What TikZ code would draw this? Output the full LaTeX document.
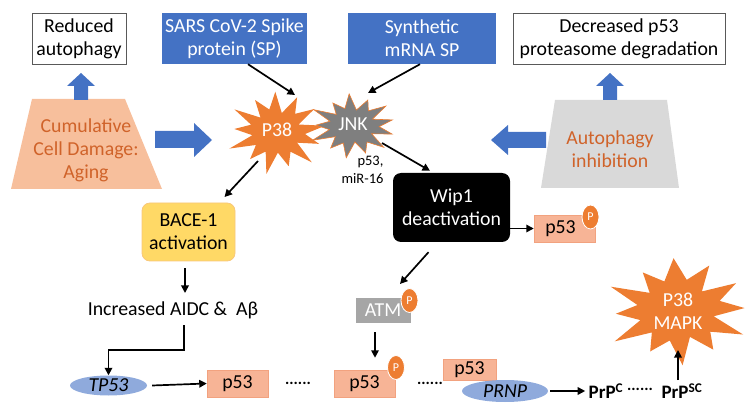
\documentclass[tikz,border=0pt]{standalone}
\usepackage{fontspec}
\setmainfont{Carlito}
\usetikzlibrary{shapes.geometric,arrows.meta}
\definecolor{bblue}{HTML}{4472C4}
\definecolor{orng}{HTML}{ED7D31}
\definecolor{peach}{HTML}{F7BF9C}
\definecolor{otext}{HTML}{D0632A}
\definecolor{lgray}{HTML}{D9D9D9}
\definecolor{mgray}{HTML}{A6A6A6}
\definecolor{dgray}{HTML}{7F7F7F}
\definecolor{salmon}{HTML}{F7B496}
\definecolor{salmonb}{HTML}{F2A27F}
\definecolor{ell}{HTML}{8FAADC}
\definecolor{yel}{HTML}{FFD966}
\definecolor{yelb}{HTML}{F8C77A}
% star polygon: center x, center y, rx, ry, points, inner ratio, phase
\newcommand\mystarpath[7]{%
  plot[samples at={0,...,\numexpr 2*#5-1\relax}, variable=\k]
  ({#1+#3*((mod(\k,2)==0)?1:#6)*(1+0.10*sin(\k*97+#7))*cos(90+\k*180/#5+#7/10)},
   {#2-#4*((mod(\k,2)==0)?1:#6)*(1+0.10*sin(\k*97+#7))*sin(90+\k*180/#5+#7/10)}) -- cycle}
\begin{document}
\begin{tikzpicture}[x=1pt,y=-1pt,
  big/.style={font=\fontsize{19.8}{23}\selectfont},
  wbox/.style={big, draw=gray!70!black, fill=white, line width=0.8pt, align=center, inner sep=0pt},
  bbox/.style={big, fill=bblue, text=white, align=center, inner sep=0pt},
  arr/.style={-{Triangle[length=7.5pt,width=7.5pt]}, line width=1.7pt},
  pbox/.style={big, fill=salmon, draw=salmonb, line width=0.5pt, inner sep=0pt},
  pcirc/.style={ellipse, fill=orng, draw=white, line width=0.8pt, text=white, inner sep=0pt, minimum width=17pt, minimum height=24pt, font=\fontsize{12}{13}\selectfont},
  gene/.style={ellipse, fill=ell, inner sep=0pt, font=\fontsize{19.8}{22}\selectfont\itshape},
  startxt/.style={inner sep=0pt, align=center, big, text=white},
  dots/.style={font=\bfseries\fontsize{16}{16}\selectfont}
]
\useasboundingbox (0,0) rectangle (750,414);

% top boxes
\node[wbox, minimum width=94pt, minimum height=51pt] (red) at (79,38.5) {Reduced\\autophagy};
\node[bbox, minimum width=145pt, minimum height=51pt] (sars) at (234.5,38.5) {SARS CoV-2 Spike\\protein (SP)};
\node[bbox, minimum width=148pt, minimum height=51pt] (syn) at (422,38.5) {Synthetic\\mRNA SP};
\node[wbox, minimum width=212pt, minimum height=51pt] (dec) at (619,38.5) {Decreased p53\\proteasome degradation};

% trapezoids
\fill[peach] (32,99) -- (125,99) -- (162,189) -- (11,189) -- cycle;
\node[big, text=otext, align=center] (cum) at (86,150) {Cumulative\\Cell Damage:\\Aging};
\fill[lgray] (555,100) -- (667,100) -- (679,188) -- (541,188) -- cycle;
\node[big, text=otext, align=center] (aut) at (610,149) {Autophagy\\inhibition};

% block arrows
\fill[bblue] (74,100) -- (74,86) -- (67,86) -- (81,73) -- (95,86) -- (88,86) -- (88,100) -- cycle;
\fill[bblue] (603,100) -- (603,86) -- (596,86) -- (610,73) -- (624,86) -- (617,86) -- (617,100) -- cycle;
\fill[bblue] (155,131) -- (194,131) -- (194,123) -- (212,140) -- (194,157) -- (194,148) -- (155,148) -- cycle;
\fill[bblue] (546,132) -- (508,132) -- (508,125) -- (491,140) -- (508,155) -- (508,148) -- (546,148) -- cycle;

% stars
\fill[orng] \mystarpath{277}{132}{47}{39}{13}{0.55}{20};
\node[startxt] (p38) at (277,130) {P38};
\filldraw[fill=dgray, draw=orng, line width=0.6pt] \mystarpath{353}{126}{41}{30}{13}{0.58}{50};
\node[startxt] (jnk) at (353,124) {JNK};
\fill[orng] \mystarpath{678}{311}{69}{50}{12}{0.58}{35};
\node[startxt] (mapk) at (678,311) {P38\\MAPK};

\draw[arr] ([xshift=13.5pt]sars.south) -- ([shift={(18,-35)}]p38.center);
\draw[arr] ([xshift=-2pt]syn.south) -- ([shift={(15,-31)}]jnk.center);

% Wip1
\node[big, fill=black, text=white, rounded corners=8pt, align=center, minimum width=117pt, minimum height=69pt, inner sep=0pt] (wip) at (451.5,207.5) {Wip1\\deactivation};
\draw[arr] ([shift={(29,19)}]jnk.center) -- ([shift={(-21.5,-2)}]wip.north);
\node[align=right, font=\fontsize{14.5}{18}\selectfont, anchor=east] (lab) at (387,170) {p53,\\miR-16};

\node[pbox, minimum width=61pt, minimum height=27pt] (p53w) at (564.5,228.5) {\hspace*{-8pt}p53};
\node[pcirc] (pw) at (590.5,217) {P};
\draw[arr] (wip.east |- p53w.west) -- (p53w.west);

% BACE
\node[big, fill=yel, draw=yelb, line width=0.8pt, rounded corners=8pt, align=center, minimum width=93pt, minimum height=58pt, inner sep=0pt] (bace) at (188.5,232) {BACE-1\\activation};
\draw[arr] ([shift={(-19,31)}]p38.center) -- ([shift={(36,-35)}]bace.center);
\node[big] (incr) at (173,310) {Increased AIDC \&\ \ Aβ};
\draw[arr] ([shift={(-3.5,7)}]bace.south) -- ([shift={(12,-17)}]incr.center);

% bottom row
\node[gene, minimum width=77pt, minimum height=20pt] (tp53) at (108.5,385.5) {TP53};
\draw[arr] ([shift={(11,15)}]incr.center) -- ++(0,25) -| (tp53.north);
\node[pbox, minimum width=61pt, minimum height=27pt] (p53a) at (237.5,383.5) {p53};
\draw[arr] ([xshift=5pt]tp53.east) -- (p53a.west);
\node[dots] (d1) at (298,383) {......};

\node[pbox, fill=mgray, draw=mgray, text=white, minimum width=54pt, minimum height=24pt] (atm) at (383,310) {ATM};
\node[pcirc] (patm) at (409.5,300.5) {P};
\draw[arr] ([shift={(-23,10)}]wip.south) -- ([shift={(17,-26)}]atm.center);

\node[pbox, minimum width=61pt, minimum height=27pt] (p53b) at (364.5,383.5) {p53};
\node[pcirc] (pb) at (396,367.5) {P};
\draw[arr] ([shift={(-8,10)}]atm.south) -- ([shift={(10.5,-12)}]p53b.north);
\node[dots] (d2) at (430,383) {......};

\node[pbox, minimum width=53pt, minimum height=21pt] (p53c) at (469.5,369.5) {p53};
\node[gene, minimum width=86pt, minimum height=22pt] (prnp) at (505,391) {PRNP};
\node[font=\bfseries\fontsize{19}{20}\selectfont] (prpc) at (606,391) {PrP\textsuperscript{C}};
\draw[arr] ([xshift=2pt]prnp.east) -- (prpc.west);
\node[dots] (d3) at (640,389) {......};
\node[font=\bfseries\fontsize{19}{20}\selectfont] (prpsc) at (682,391) {PrP\textsuperscript{SC}};
\draw[arr] ([shift={(-4,-11)}]prpsc.center) -- ([shift={(0,39)}]mapk.center);
\end{tikzpicture}
\end{document}
